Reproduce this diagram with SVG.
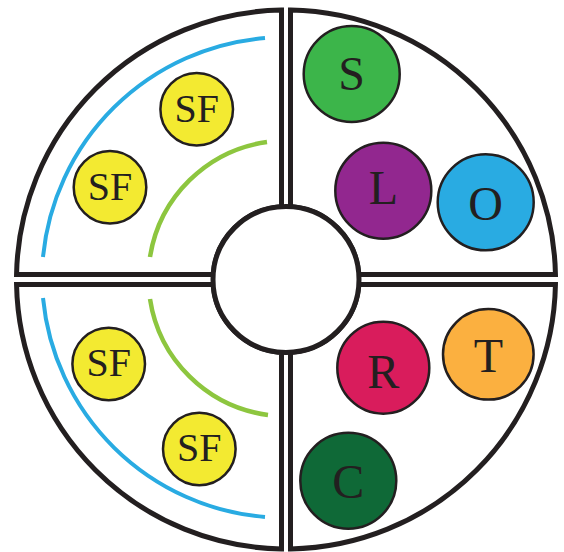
<svg xmlns="http://www.w3.org/2000/svg" width="564" height="552" viewBox="0 0 564 552">
<style>
.q{fill:#fff;stroke:#231f20;stroke-width:5;stroke-linejoin:miter}
.blue{fill:none;stroke:#29abe2;stroke-width:4}
.green{fill:none;stroke:#8dc63f;stroke-width:4.5}
.n{stroke:#231f20;stroke-width:2.5}
.t{font-family:"Liberation Serif","DejaVu Serif",serif;font-weight:normal;fill:#231f20;text-anchor:middle}
.big{font-size:48px}
.sf{font-size:40px}
</style>
<g id="quadrants">
<path class="q" d="M 281.5 10.04 A 269.5 269.5 0 0 0 16.55 274.5 L 213.17 274.5 A 73 73 0 0 1 281.5 206.64 Z"/>
<path class="q" d="M 290.5 10.04 A 269.5 269.5 0 0 1 555.45 274.5 L 358.83 274.5 A 73 73 0 0 0 290.5 206.64 Z"/>
<path class="q" d="M 281.5 548.96 A 269.5 269.5 0 0 1 16.55 284.5 L 213.17 284.5 A 73 73 0 0 0 281.5 352.36 Z"/>
<path class="q" d="M 290.5 548.96 A 269.5 269.5 0 0 0 555.45 284.5 L 358.83 284.5 A 73 73 0 0 1 290.5 352.36 Z"/>
<circle id="hub" class="q" cx="286" cy="279.5" r="73"/>
</g>
<g id="connectors">
<path class="blue" d="M 43 257 A 243 243 0 0 1 265 38"/>
<path class="green" d="M 150 257 A 138 138 0 0 1 267 142"/>
<path class="blue" d="M 43 298 A 243 243 0 0 0 265 517"/>
<path class="green" d="M 150 299 A 138 138 0 0 0 268 415"/>
</g>
<g id="sf1"><circle class="n" cx="196.7" cy="109.3" r="36.3" fill="#f3ea31"/><text class="t sf" x="196.7" y="121.7">SF</text></g>
<g id="sf2"><circle class="n" cx="110" cy="187.3" r="36.3" fill="#f3ea31"/><text class="t sf" x="110" y="199.7">SF</text></g>
<g id="sf3"><circle class="n" cx="108.7" cy="364" r="36.3" fill="#f3ea31"/><text class="t sf" x="108.7" y="376.4">SF</text></g>
<g id="sf4"><circle class="n" cx="199.3" cy="449" r="36.3" fill="#f3ea31"/><text class="t sf" x="199.3" y="461.4">SF</text></g>
<g id="S"><circle class="n" cx="351.7" cy="74" r="48" fill="#3cb54a"/><text class="t big" x="351.7" y="89.5">S</text></g>
<g id="L"><circle class="n" cx="383.3" cy="190.7" r="48" fill="#92278f"/><text class="t big" x="383.3" y="204.3">L</text></g>
<g id="O"><circle class="n" cx="485.7" cy="202.3" r="48" fill="#29abe2"/><text class="t big" x="485.7" y="219.5">O</text></g>
<g id="R"><circle class="n" cx="383.3" cy="367.7" r="46" fill="#d91c5c"/><text class="t big" x="383.3" y="388">R</text></g>
<g id="T"><circle class="n" cx="488.3" cy="354.3" r="45.3" fill="#fbb040"/><text class="t big" x="488.3" y="371.7">T</text></g>
<g id="C"><circle class="n" cx="348.3" cy="480.7" r="48" fill="#0f6937"/><text class="t big" x="348.3" y="498">C</text></g>
</svg>
